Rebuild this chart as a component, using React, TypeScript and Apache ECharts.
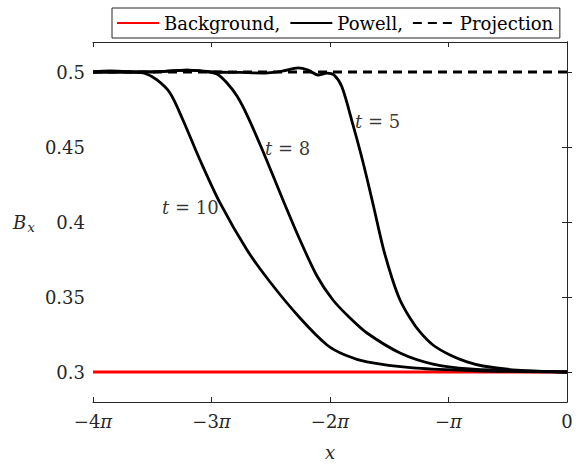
import React, { useEffect, useRef } from 'react';
import * as echarts from 'echarts';

const FONT = 'DejaVu Serif';
const FS = 18;
const INK = '#262626';

// x values are in units of π
const yTicks = [0.3, 0.35, 0.4, 0.45, 0.5];

const backgroundX = [-4, 0];
const backgroundY = [0.3, 0.3];
const projectionX = [-4, 0];
const projectionY = [0.5, 0.5];

const t10X = [-4, -3.857, -3.688, -3.561, -3.46, -3.35, -3.241, -3.097, -2.928, -2.7, -2.506, -2.253, -2.025, -1.873, -1.688, -1.3, -0.819, -0.397, 0];
const t10Y = [0.5, 0.5007, 0.5, 0.499, 0.4947, 0.486, 0.468, 0.4413, 0.4127, 0.3813, 0.36, 0.336, 0.318, 0.3113, 0.3067, 0.3027, 0.301, 0.3003, 0.3];

const t8X = [-4, -3.688, -3.435, -3.207, -3.055, -2.954, -2.869, -2.785, -2.7, -2.574, -2.397, -2.253, -2.11, -1.975, -1.831, -1.688, -1.409, -1.131, -0.819, -0.397, 0];
const t8Y = [0.5, 0.5, 0.5003, 0.5013, 0.5003, 0.4987, 0.4927, 0.484, 0.4713, 0.4487, 0.4147, 0.388, 0.364, 0.348, 0.336, 0.326, 0.3127, 0.3053, 0.302, 0.3007, 0.3];

const t5X = [-4, -3.688, -3.435, -3.207, -2.97, -2.759, -2.574, -2.397, -2.27, -2.186, -2.101, -2.025, -1.966, -1.899, -1.806, -1.722, -1.637, -1.553, -1.477, -1.409, -1.325, -1.241, -1.131, -0.987, -0.844, -0.709, -0.422, 0];
const t5Y = [0.5, 0.5, 0.5003, 0.5013, 0.5, 0.4997, 0.4993, 0.5007, 0.5027, 0.5013, 0.498, 0.4993, 0.498, 0.49, 0.4647, 0.44, 0.412, 0.3833, 0.3627, 0.348, 0.336, 0.3267, 0.318, 0.3113, 0.3067, 0.304, 0.3013, 0.3];

const annX = [-1.789, -2.548, -3.418];
const annY = [0.4669, 0.4493, 0.41];
const annT = ['5', '8', '10'];

const zip = (xs: number[], ys: number[]) => xs.map((x, i) => [x, ys[i]]);

const xLabel = (v: number) => {
  if (v === 0) return '0';
  if (v === -1) return '−{p|π}';
  return `−${-v}{p|π}`;
};

export default function App() {
  const ref = useRef<HTMLDivElement>(null);
  useEffect(() => {
    if (!ref.current) return;
    const chart = echarts.init(ref.current, undefined, { renderer: 'svg' });
    const powell = (xs: number[], ys: number[]) => ({
      name: 'Powell,',
      type: 'line',
      data: zip(xs, ys),
      symbol: 'none',
      smooth: 0.3,
      color: '#000',
      lineStyle: { color: '#000', width: 2.8 },
      z: 3,
      silent: true,
    });
    const baseText = { fontFamily: FONT, fontSize: FS, color: INK };
    const legText = { fontFamily: FONT, fontSize: FS, color: '#000', lineHeight: 24 };
    chart.setOption({
      animation: false,
      backgroundColor: '#fff',
      textStyle: { fontFamily: FONT, fontSize: FS },
      grid: { left: 93, right: 16, top: 42, bottom: 64 },
      legend: {
        data: ['Background,', 'Powell,', 'Projection'],
        left: 112,
        top: 8,
        orient: 'horizontal',
        itemWidth: 42,
        itemHeight: 14,
        itemGap: 9,
        padding: [3, 3, 3, 4],
        borderColor: INK,
        borderWidth: 1,
        backgroundColor: '#fff',
        selectedMode: false,
        itemStyle: { color: 'rgba(0,0,0,0)', borderWidth: 0, opacity: 0 },
        formatter: (name: string) => {
          const k = name === 'Background,' ? 'a' : name === 'Powell,' ? 'b' : 'c';
          return `{${k}|${name}}`;
        },
        textStyle: {
          ...legText,
          rich: {
            a: { ...legText, width: 114 },
            b: { ...legText, width: 62 },
            c: { ...legText, width: 97 },
          },
        },
      },
      xAxis: [
        {
          type: 'value',
          min: -4,
          max: 0,
          interval: 1,
          position: 'bottom',
          name: 'x',
          nameLocation: 'middle',
          nameGap: 41,
          nameTextStyle: { ...baseText, fontStyle: 'italic' },
          axisLine: { show: true, lineStyle: { color: INK, width: 1 } },
          axisTick: { show: true, inside: true, length: 5, lineStyle: { color: INK } },
          axisLabel: {
            ...baseText,
            margin: 10,
            formatter: xLabel,
            rich: { p: { ...baseText, fontStyle: 'italic' } },
          },
          splitLine: { show: false },
        },
        {
          type: 'value',
          min: -4,
          max: 0,
          interval: 1,
          position: 'top',
          axisLine: { show: true, lineStyle: { color: INK, width: 1 } },
          axisTick: { show: true, inside: true, length: 5, lineStyle: { color: INK } },
          axisLabel: { show: false },
          splitLine: { show: false },
        },
      ],
      yAxis: [
        {
          type: 'value',
          min: 0.28,
          max: 0.52,
          position: 'left',
          axisLine: { show: true, lineStyle: { color: INK, width: 1 } },
          axisTick: { show: true, inside: true, length: 5, lineStyle: { color: INK }, customValues: yTicks },
          axisLabel: {
            ...baseText,
            margin: 8,
            customValues: yTicks,
            formatter: (v: number) => String(Math.round(v * 100) / 100),
          },
          splitLine: { show: false },
        },
        {
          type: 'value',
          min: 0.28,
          max: 0.52,
          position: 'right',
          axisLine: { show: true, lineStyle: { color: INK, width: 1 } },
          axisTick: { show: true, inside: true, length: 5, lineStyle: { color: INK }, customValues: yTicks },
          axisLabel: { show: false, customValues: yTicks },
          splitLine: { show: false },
        },
      ],
      graphic: [
        {
          type: 'text',
          x: 13,
          y: 222.5,
          silent: true,
          style: {
            text: 'B', fontFamily: FONT, fontSize: 18, fontStyle: 'italic', fill: INK,
            textAlign: 'left', textVerticalAlign: 'middle',
          },
        },
        {
          type: 'text',
          x: 27.5,
          y: 227,
          silent: true,
          style: {
            text: 'x', fontFamily: FONT, fontSize: 13, fontStyle: 'italic', fill: INK,
            textAlign: 'left', textVerticalAlign: 'middle',
          },
        },
      ],
      series: [
        {
          name: 'Background,',
          type: 'line',
          data: zip(backgroundX, backgroundY),
          symbol: 'none',
          color: '#ff0000',
          lineStyle: { color: '#ff0000', width: 3 },
          z: 1,
          silent: true,
        },
        {
          name: 'Projection',
          type: 'line',
          data: zip(projectionX, projectionY),
          symbol: 'none',
          color: '#000',
          lineStyle: { color: '#000', width: 2.8, type: [9, 6] },
          z: 2,
          silent: true,
        },
        powell(t10X, t10Y),
        powell(t8X, t8Y),
        powell(t5X, t5Y),
        {
          name: 'labels',
          type: 'scatter',
          data: zip(annX, annY),
          symbolSize: 0,
          silent: true,
          z: 5,
          label: {
            show: true,
            position: 'right',
            distance: 0,
            ...baseText,
            color: '#000',
            formatter: (p: any) => `{i|t} = ${annT[p.dataIndex]}`,
            rich: { i: { ...baseText, color: '#000', fontStyle: 'italic' } },
          },
        },
      ],
    });
    return () => chart.dispose();
  }, []);
  return (
    <div
      ref={ref}
      style={{ position: 'fixed', left: 0, top: 0, width: 583, height: 466, background: '#fff' }}
    />
  );
}
